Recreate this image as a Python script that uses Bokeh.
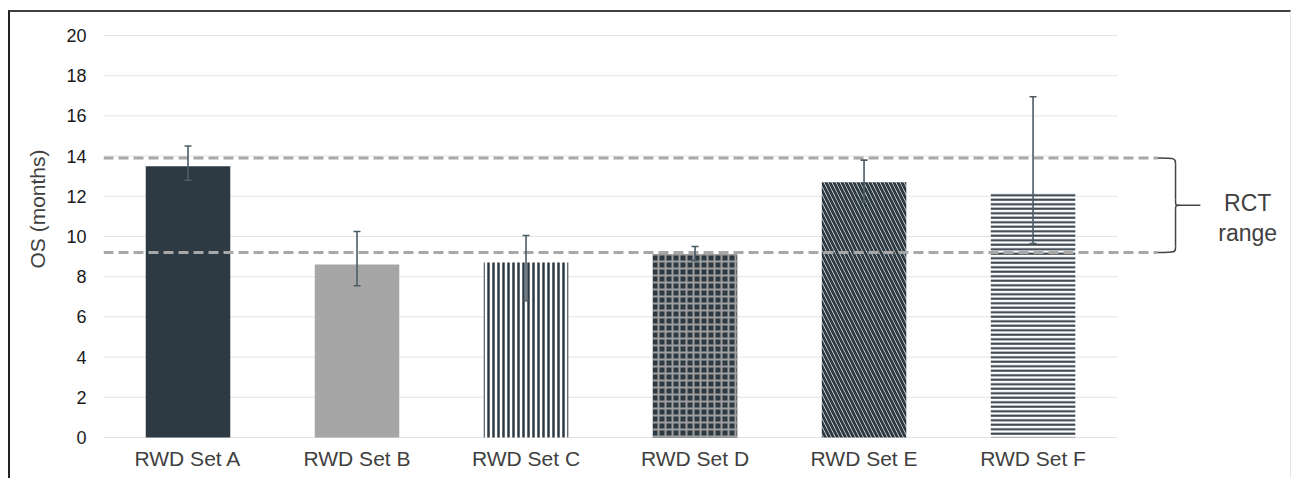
import numpy as np
from bokeh.plotting import figure
from bokeh.models import ColumnDataSource, FixedTicker, Whisker, TeeHead, Title, Range1d
from bokeh.embed import file_html
from bokeh.resources import INLINE
from bokeh.core.properties import value

# ---------------- data ----------------
categories = ["RWD Set A", "RWD Set B", "RWD Set C", "RWD Set D", "RWD Set E", "RWD Set F"]
os_months = [13.5, 8.6, 8.7, 9.1, 12.7, 12.2]
err_low = [12.8, 7.55, 6.8, 8.8, 11.7, 9.65]
err_high = [14.5, 10.25, 10.05, 9.5, 13.8, 16.95]
rct_range = [9.2, 13.9]
y_ticks = [0, 2, 4, 6, 8, 10, 12, 14, 16, 18, 20]
rct_label = ["RCT", "range"]

# ---------------- styles ----------------
FONT = "Liberation Sans"
DARK = "#2d3a43"
bar_fill = [DARK, "#a6a6a6", "white", DARK, "white", "white"]
bar_hatch = [None, None, "|", "+", "\\", "-"]
hatch_col = [None, None, DARK, "#a0a0a0", DARK, DARK]
hatch_sc = [1, 1, 5, 7, 8, 4.5]
hatch_wt = [1, 1, 2.5, 2, 3, 2]

xs = list(range(len(categories)))

p = figure(width=1283, height=468,
           x_range=Range1d(-0.5, 6.541), y_range=Range1d(-0.3, 20.746),
           output_backend="svg", toolbar_location=None,
           min_border_left=93, min_border_right=0, min_border_top=8, min_border_bottom=37,
           styles={"margin-left": "8px", "margin-top": "10px",
                   "border-top": "2px solid #3f3f3f", "border-left": "2px solid #222222",
                   "border-right": "1px solid #e6e6e6"})
p.outline_line_color = None
p.grid.visible = False
p.background_fill_color = "white"

# gridlines (span category area only)
p.segment(x0=[-0.5] * len(y_ticks), x1=[len(categories) - 0.5] * len(y_ticks),
          y0=y_ticks, y1=y_ticks, line_color="#e3e3e3", line_width=1)

# bars
for i in xs:
    kw = dict(x=[i], top=[os_months[i]], bottom=0, width=0.5,
              fill_color=bar_fill[i], line_color=None)
    if bar_hatch[i]:
        kw.update(hatch_pattern=bar_hatch[i], hatch_color=hatch_col[i],
                  hatch_scale=hatch_sc[i], hatch_weight=hatch_wt[i])
    p.vbar(**kw)

# RCT range dashed lines
x_dash_end = 5.737
p.segment(x0=[-0.5, -0.5], x1=[x_dash_end, x_dash_end], y0=rct_range, y1=rct_range,
          line_color="#a8a8a8", line_width=3, line_dash="10 5")

# error bars
src = ColumnDataSource(dict(x=xs, lower=err_low, upper=err_high))
ecol = "#4c5c67"
w = Whisker(source=src, base="x", lower="lower", upper="upper",
            line_color=ecol, line_width=1.6,
            upper_head=TeeHead(size=7, line_color=ecol, line_width=1.6),
            lower_head=TeeHead(size=7, line_color=ecol, line_width=1.6))
w.level = "overlay"
p.add_layout(w)

# brace
lo, hi = rct_range
mid = (lo + hi) / 2.0
xa, xb, xt = x_dash_end, 5.843, 5.99
r = 0.3
bcol = "#444444"
p.bezier(x0=[xa, xb, xb, xb], y0=[hi, mid + r, mid - r, lo + r],
         x1=[xb, xb + 0.02, xb + 0.02, xa], y1=[hi - r, mid, mid, lo],
         cx0=[xb, xb, xb, xb], cy0=[hi, mid, mid, lo],
         cx1=[xb, xb, xb, xb], cy1=[hi, mid, mid, lo],
         line_color=bcol, line_width=1.5)
p.segment(x0=[xb, xb, xb + 0.02], x1=[xb, xb, xt],
          y0=[hi - r, lo + r, mid], y1=[mid + r, mid - r, mid],
          line_color=bcol, line_width=1.5)

# RCT range text
p.text(x=[6.27, 6.27], y=[11.69, 10.15], text=rct_label,
       text_font=value(FONT), text_font_size="23px", text_color="#404040",
       text_align="center", text_baseline="alphabetic")

# axes
p.yaxis.ticker = FixedTicker(ticks=y_ticks)
p.yaxis.axis_line_color = None
p.yaxis.major_tick_line_color = None
p.yaxis.minor_tick_line_color = None
p.yaxis.major_label_standoff = 11
p.yaxis.major_label_text_font = FONT
p.yaxis.major_label_text_font_size = "18px"
p.yaxis.major_label_text_color = "#1a1a1a"

p.xaxis.ticker = FixedTicker(ticks=xs)
p.xaxis.major_label_overrides = {i: c for i, c in zip(xs, categories)}
p.xaxis.axis_line_color = None
p.xaxis.major_tick_line_color = None
p.xaxis.minor_tick_line_color = None
p.xaxis.major_label_standoff = -3
p.xaxis.major_label_text_font = FONT
p.xaxis.major_label_text_font_size = "21px"
p.xaxis.major_label_text_color = "#404040"

ytitle = Title(text="OS (months)", align="left", offset=175, standoff=25,
               vertical_align="top",
               text_font=FONT, text_font_size="21px", text_font_style="normal",
               text_color="#404040")
p.add_layout(ytitle, "left")

open("out.html", "w").write(file_html(p, INLINE))
